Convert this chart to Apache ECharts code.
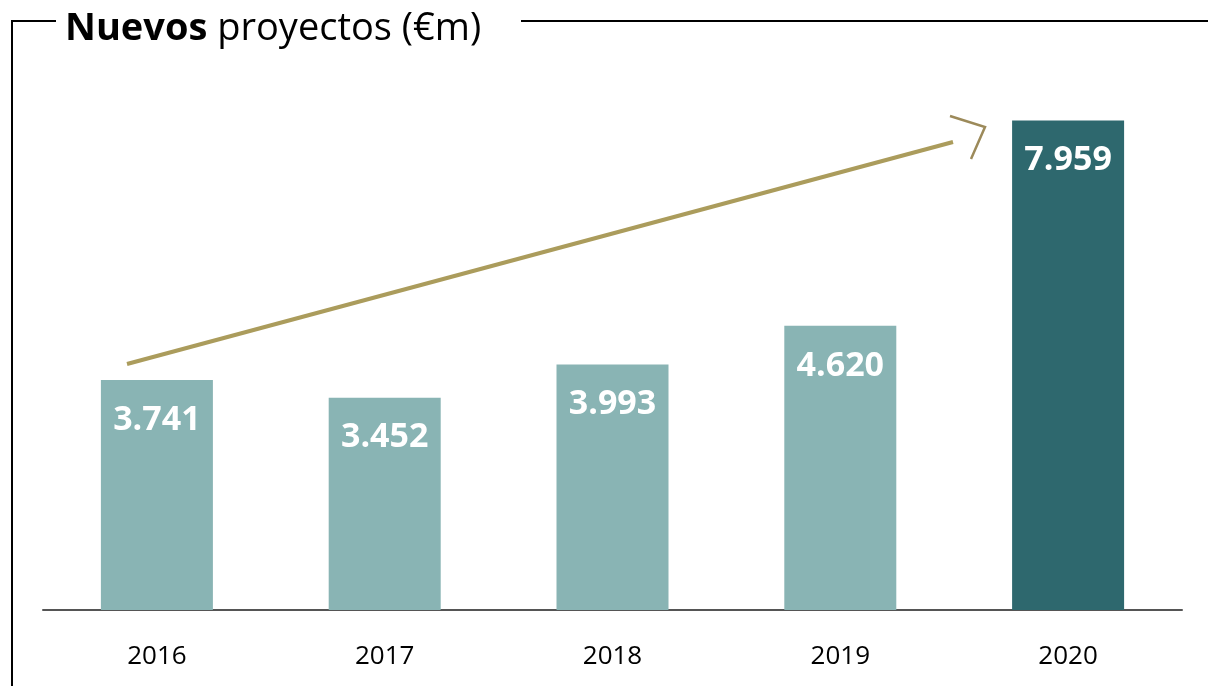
<!DOCTYPE html>
<html>
<head>
<meta charset="utf-8">
<script src="https://cdn.jsdelivr.net/npm/echarts@6/dist/echarts.min.js"></script>
<style>
  html, body { margin: 0; padding: 0; background: #fff; }
  #chart { width: 1208px; height: 686px; }
</style>
</head>
<body>
<div id="chart"></div>
<script>
// datos
var years = ["2016", "2017", "2018", "2019", "2020"];
var projects = [3741, 3452, 3993, 4620, 7959];
var barColors = ["#89b4b4", "#89b4b4", "#89b4b4", "#89b4b4", "#2e686e"];

var chart = echarts.init(document.getElementById("chart"));

// formato español: 3741 -> 3.741
function fmt(v) {
  return String(v).replace(/\B(?=(\d{3})+(?!\d))/g, ".");
}

var option = {
  animation: false,
  title: {
    text: "{b|Nuevos}{n| proyectos (€m)}",
    left: 60,
    top: 5,
    textStyle: {
      fontWeight: "normal",
      rich: {
        b: { fontFamily: "Open Sans", fontWeight: "bold", fontSize: 38, color: "#000" },
        n: { fontFamily: "Open Sans", fontWeight: "normal", fontSize: 38, color: "#000" }
      }
    }
  },
  grid: { left: 43, right: 26, top: 118, bottom: 76 },
  xAxis: {
    type: "category",
    data: years,
    axisTick: { show: false },
    axisLine: { lineStyle: { color: "#555", width: 2 } },
    axisLabel: { color: "#000", fontFamily: "Open Sans", fontSize: 26, margin: 34 }
  },
  yAxis: {
    type: "value",
    min: 0,
    max: 8000,
    show: false
  },
  series: [{
    type: "bar",
    barWidth: 112,
    data: projects.map(function (v, i) {
      return { value: v, itemStyle: { color: barColors[i] } };
    }),
    label: {
      show: true,
      position: "insideTop",
      distance: 23,
      color: "#fff",
      fontFamily: "Open Sans",
      fontWeight: "bold",
      fontSize: 34,
      formatter: function (p) { return fmt(p.value); }
    }
  }],
  graphic: [
    // marco
    { type: "line", shape: { x1: 11, y1: 21, x2: 56, y2: 21 }, style: { stroke: "#000", lineWidth: 2 } },
    { type: "line", shape: { x1: 521, y1: 21, x2: 1208, y2: 21 }, style: { stroke: "#000", lineWidth: 2 } },
    { type: "line", shape: { x1: 12, y1: 20, x2: 12, y2: 686 }, style: { stroke: "#000", lineWidth: 2 } },
    // flecha de tendencia
    { type: "line", shape: { x1: 127, y1: 364, x2: 953, y2: 142 }, style: { stroke: "#ab9c5c", lineWidth: 4 } },
    { type: "polyline", shape: { points: [[950, 116], [985, 127], [971, 159]] }, style: { stroke: "#9c8a5a", lineWidth: 2.5, fill: null } }
  ]
};

chart.setOption(option);
</script>
</body>
</html>
